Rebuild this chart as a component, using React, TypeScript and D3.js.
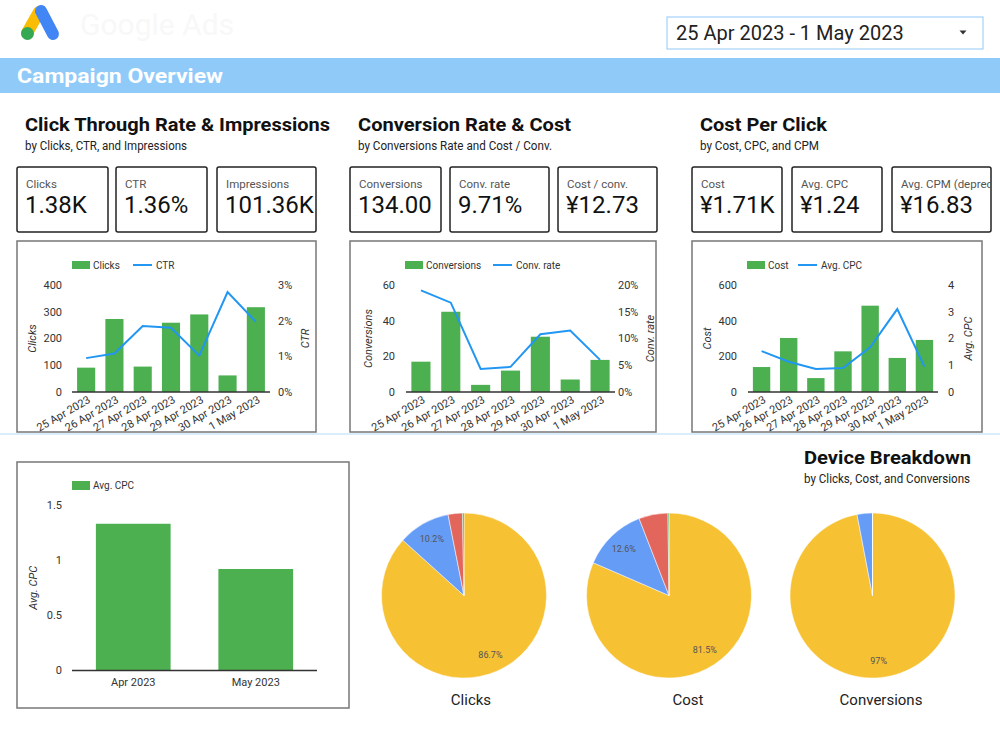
import React from "react";
import * as d3 from "d3";

const FONT = "Roboto, 'Noto Sans', Arial, sans-serif";

// ---------- data ----------
const dates = ["25 Apr 2023", "26 Apr 2023", "27 Apr 2023", "28 Apr 2023", "29 Apr 2023", "30 Apr 2023", "1 May 2023"];
const clicks = [91, 273, 95, 259, 290, 62, 317];
const ctr = [0.95, 1.08, 1.85, 1.8, 1.02, 2.8, 1.97];
const conversions = [17, 45, 4, 12, 31, 7, 18];
const convRate = [19.0, 16.7, 4.3, 4.7, 10.8, 11.5, 6.0];
const cost = [140, 303, 78, 228, 484, 191, 292];
const avgCpc = [1.53, 1.13, 0.86, 0.9, 1.67, 3.1, 0.95];

const clicksTicks = [0, 100, 200, 300, 400];
const ctrTicks = [0, 1, 2, 3];
const convTicks = [0, 20, 40, 60];
const convRateTicks = [0, 5, 10, 15, 20];
const costTicks = [0, 200, 400, 600];
const cpcTicks = [0, 1, 2, 3, 4];

const months = ["Apr 2023", "May 2023"];
const monthlyAvgCpc = [1.33, 0.92];
const monthlyTicks = [0, 0.5, 1, 1.5];

const devices = ["Mobile phones", "Computers", "Tablets", "TV screens"];
const clicksShare = [86.7, 10.2, 2.8, 0.3];
const costShare = [81.5, 12.6, 5.7, 0.2];
const conversionsShare = [97, 3, 0, 0];

const kpiLabels = ["Clicks", "CTR", "Impressions", "Conversions", "Conv. rate", "Cost / conv.", "Cost", "Avg. CPC", "Avg. CPM (deprecated)"];
const kpiValues = ["1.38K", "1.36%", "101.36K", "134.00", "9.71%", "¥12.73", "¥1.71K", "¥1.24", "¥16.83"];

// ---------- styles ----------
const GREEN = "#4CAF50";
const LINE_BLUE = "#2196F3";
const PIE_COLORS = ["#F6C133", "#659CF5", "#E2665C", "#43A85A"];

type Box = { x: number; y: number; w: number; h: number };
type Plot = { x0: number; x1: number; yt: number; yb: number };

function Combo(props: {
  box: Box; plot: Plot; bars: number[]; line: number[];
  leftTicks: number[]; rightTicks: number[]; rightFmt: (v: number) => string;
  barName: string; lineName: string; leftTitle: string; rightTitle: string;
  legBar: number; legLine: number; leftLabelX: number; rightLabelX: number;
  leftTitleX: number; rightTitleX: number;
}) {
  const p = props;
  const x = d3.scaleBand<string>().domain(dates).range([p.plot.x0, p.plot.x1]).paddingInner(0.36).paddingOuter(0.18);
  const yl = d3.scaleLinear().domain([0, d3.max(p.leftTicks)!]).range([p.plot.yb, p.plot.yt]);
  const yr = d3.scaleLinear().domain([0, d3.max(p.rightTicks)!]).range([p.plot.yb, p.plot.yt]);
  const cx = (i: number) => (x(dates[i]) as number) + x.bandwidth() / 2;
  const path = d3.line<number>().x((_, i) => cx(i)).y((d) => yr(d))(p.line) || "";
  const midY = (p.plot.yt + p.plot.yb) / 2;
  const legY = p.plot.yt - 20;
  return (
    <g>
      <rect x={p.box.x} y={p.box.y} width={p.box.w} height={p.box.h} fill="#fff" stroke="#777" strokeWidth={1.5} />
      {/* legend */}
      <rect x={p.legBar} y={legY - 4} width={18} height={8} fill={GREEN} />
      <text x={p.legBar + 21} y={legY} dy="0.35em" fontSize={10} fill="#333">{p.barName}</text>
      <line x1={p.legLine} x2={p.legLine + 19} y1={legY} y2={legY} stroke={LINE_BLUE} strokeWidth={2} />
      <text x={p.legLine + 23} y={legY} dy="0.35em" fontSize={10} fill="#333">{p.lineName}</text>
      {/* bars */}
      {p.bars.map((v, i) => (
        <rect key={i} x={x(dates[i])} y={yl(v)} width={x.bandwidth()} height={p.plot.yb - yl(v)} fill={GREEN} />
      ))}
      <line x1={p.plot.x0} x2={p.plot.x1} y1={p.plot.yb} y2={p.plot.yb} stroke="#333" strokeWidth={1.5} />
      <path d={path} fill="none" stroke={LINE_BLUE} strokeWidth={2} />
      {/* left ticks */}
      {p.leftTicks.map((t) => (
        <text key={t} x={p.leftLabelX} y={yl(t)} dy="0.35em" textAnchor="end" fontSize={11} fill="#333">{t}</text>
      ))}
      {p.rightTicks.map((t) => (
        <text key={t} x={p.rightLabelX} y={yr(t)} dy="0.35em" textAnchor="start" fontSize={11} fill="#333">{p.rightFmt(t)}</text>
      ))}
      <text transform={`translate(${p.leftTitleX},${midY}) rotate(-90)`} textAnchor="middle" dy="0.35em" fontSize={11} fontStyle="italic" fill="#333">{p.leftTitle}</text>
      <text transform={`translate(${p.rightTitleX},${midY}) rotate(-90)`} textAnchor="middle" dy="0.35em" fontSize={11} fontStyle="italic" fill="#333">{p.rightTitle}</text>
      {dates.map((d, i) => (
        <text key={d} transform={`translate(${cx(i) + 5},${p.plot.yb + 10}) rotate(-30)`} textAnchor="end" fontSize={11} fill="#333">{d}</text>
      ))}
    </g>
  );
}

function Pie(props: { cx: number; cy: number; r: number; values: number[]; title: string; titleX: number }) {
  const { cx, cy, r, values, title, titleX } = props;
  const arcs = d3.pie<number>().sort(null).value((d) => d)(values);
  const arc = d3.arc<d3.PieArcDatum<number>>().innerRadius(0).outerRadius(r);
  const lab = d3.arc<d3.PieArcDatum<number>>().innerRadius(r * 0.79).outerRadius(r * 0.79);
  const fmt = d3.format(".1~f");
  return (
    <g>
      <g transform={`translate(${cx},${cy})`}>
        {arcs.map((a, i) => (
          <path key={devices[i]} d={arc(a) || ""} fill={PIE_COLORS[i]} stroke="#fff" strokeWidth={0.5} />
        ))}
        {arcs.map((a, i) =>
          a.value >= 10 ? (
            <text key={"l" + i} x={lab.centroid(a)[0]} y={lab.centroid(a)[1]} dy="0.35em" textAnchor="middle" fontSize={9} fill="#555">
              {fmt(a.value)}%
            </text>
          ) : null
        )}
      </g>
      <text x={titleX} y={705} textAnchor="middle" fontSize={15} fill="#222">{title}</text>
    </g>
  );
}

function MonthlyChart() {
  const box = { x: 17, y: 462, w: 332, h: 246 };
  const plot = { x0: 72, x1: 317, yt: 505, yb: 670.5 };
  const x = d3.scaleBand<string>().domain(months).range([plot.x0, plot.x1]).paddingInner(0.39).paddingOuter(0.195);
  const y = d3.scaleLinear().domain([0, 1.5]).range([plot.yb, plot.yt]);
  return (
    <g>
      <rect x={box.x} y={box.y} width={box.w} height={box.h} fill="#fff" stroke="#777" strokeWidth={1.5} />
      <rect x={72} y={481} width={18} height={9} fill={GREEN} />
      <text x={93} y={485.5} dy="0.35em" fontSize={10} fill="#333">Avg. CPC</text>
      {monthlyAvgCpc.map((v, i) => (
        <rect key={months[i]} x={x(months[i])} y={y(v)} width={x.bandwidth()} height={plot.yb - y(v)} fill={GREEN} />
      ))}
      <line x1={plot.x0} x2={plot.x1} y1={plot.yb} y2={plot.yb} stroke="#333" strokeWidth={1.5} />
      {monthlyTicks.map((t) => (
        <text key={t} x={62} y={y(t)} dy="0.35em" textAnchor="end" fontSize={11} fill="#333">{t}</text>
      ))}
      {months.map((m) => (
        <text key={m} x={(x(m) as number) + x.bandwidth() / 2} y={686} textAnchor="middle" fontSize={11} fill="#333">{m}</text>
      ))}
      <text transform={`translate(33,${(plot.yt + plot.yb) / 2}) rotate(-90)`} textAnchor="middle" dy="0.35em" fontSize={11} fontStyle="italic" fill="#333">Avg. CPC</text>
    </g>
  );
}

const kpiX = [17, 116, 217, 350, 450, 558, 692, 792, 892];
const kpiW = [91, 91, 99, 91, 99, 99, 90, 90, 99];

export default function App() {
  return (
    <svg width={1000} height={750} style={{ position: "absolute", left: 0, top: 0, fontFamily: FONT }}>
      <defs>
        {kpiX.map((kx, i) => (
          <clipPath id={`kc${i}`} key={i}>
            <rect x={kx} y={167} width={kpiW[i]} height={65} />
          </clipPath>
        ))}
      </defs>
      <rect x={0} y={0} width={1000} height={750} fill="#fff" />
      {/* logo */}
      <line x1={39} y1={12} x2={27} y2={33} stroke="#FBBC04" strokeWidth={12} strokeLinecap="round" />
      <line x1={41} y1={11} x2={53} y2={34} stroke="#4285F4" strokeWidth={12} strokeLinecap="round" />
      <circle cx={27.5} cy={33.5} r={6.5} fill="#34A853" />
      <text x={80} y={35} fontSize={30} fill="#f8f8f8">Google Ads</text>
      {/* date picker */}
      <rect x={667} y={17} width={316} height={32} fill="#fff" stroke="#90CAF9" strokeWidth={1} />
      <text x={676} y={39.5} fontSize={20} fill="#222">25 Apr 2023 - 1 May 2023</text>
      <path d="M959.5,30.5 L966.5,30.5 L963,34.5 Z" fill="#333" />
      {/* band */}
      <rect x={0} y={58} width={1000} height={35} fill="#90CAF9" />
      <text x={17} y={83} fontSize={21} fontWeight="bold" fill="#fff" textLength={206} lengthAdjust="spacingAndGlyphs">Campaign Overview</text>

      {/* section titles */}
      <text x={25} y={131} fontSize={19} fontWeight="bold" fill="#111" textLength={305} lengthAdjust="spacingAndGlyphs">Click Through Rate &amp; Impressions</text>
      <text x={25} y={150} fontSize={12} fill="#222" textLength={162} lengthAdjust="spacingAndGlyphs">by Clicks, CTR, and Impressions</text>
      <text x={358} y={131} fontSize={19} fontWeight="bold" fill="#111" textLength={213} lengthAdjust="spacingAndGlyphs">Conversion Rate &amp; Cost</text>
      <text x={358} y={150} fontSize={12} fill="#222" textLength={194} lengthAdjust="spacingAndGlyphs">by Conversions Rate and Cost / Conv.</text>
      <text x={700} y={131} fontSize={19} fontWeight="bold" fill="#111" textLength={127} lengthAdjust="spacingAndGlyphs">Cost Per Click</text>
      <text x={700} y={150} fontSize={12} fill="#222" textLength={119} lengthAdjust="spacingAndGlyphs">by Cost, CPC, and CPM</text>

      {/* KPI boxes */}
      {kpiX.map((kx, i) => (
        <g key={kpiLabels[i]}>
          <rect x={kx} y={167} width={kpiW[i]} height={65} rx={2} fill="#fff" stroke="#222" strokeWidth={1.5} />
          <g clipPath={`url(#kc${i})`}>
            <text x={kx + 9} y={188} fontSize={11.5} fill="#555">{kpiLabels[i]}</text>
          </g>
          <text x={kx + 8} y={213} fontSize={24} fill="#111">{kpiValues[i]}</text>
        </g>
      ))}

      <line x1={0} x2={1000} y1={434} y2={434} stroke="#cfe6fa" strokeWidth={1.5} />

      <Combo box={{ x: 17, y: 241, w: 299, h: 191 }} plot={{ x0: 72, x1: 270, yt: 285, yb: 392 }}
        bars={clicks} line={ctr} leftTicks={clicksTicks} rightTicks={ctrTicks} rightFmt={(v) => `${v}%`}
        barName="Clicks" lineName="CTR" leftTitle="Clicks" rightTitle="CTR"
        legBar={72} legLine={133} leftLabelX={62} rightLabelX={278} leftTitleX={32} rightTitleX={305} />
      <Combo box={{ x: 350, y: 241, w: 306, h: 191 }} plot={{ x0: 406, x1: 615, yt: 285, yb: 392 }}
        bars={conversions} line={convRate} leftTicks={convTicks} rightTicks={convRateTicks} rightFmt={(v) => `${v}%`}
        barName="Conversions" lineName="Conv. rate" leftTitle="Conversions" rightTitle="Conv. rate"
        legBar={405} legLine={493} leftLabelX={395} rightLabelX={618} leftTitleX={368} rightTitleX={650} />
      <Combo box={{ x: 692, y: 241, w: 290, h: 191 }} plot={{ x0: 748, x1: 938, yt: 285, yb: 392 }}
        bars={cost} line={avgCpc} leftTicks={costTicks} rightTicks={cpcTicks} rightFmt={(v) => `${v}`}
        barName="Cost" lineName="Avg. CPC" leftTitle="Cost" rightTitle="Avg. CPC"
        legBar={747} legLine={798} leftLabelX={737} rightLabelX={948} leftTitleX={707} rightTitleX={968} />

      <MonthlyChart />

      <text x={804} y={464} fontSize={19} fontWeight="bold" fill="#111" textLength={167} lengthAdjust="spacingAndGlyphs">Device Breakdown</text>
      <text x={804} y={483} fontSize={12} fill="#222" textLength={166} lengthAdjust="spacingAndGlyphs">by Clicks, Cost, and Conversions</text>

      <Pie cx={464} cy={595.5} r={82.5} values={clicksShare} title="Clicks" titleX={471} />
      <Pie cx={669} cy={595.5} r={82.5} values={costShare} title="Cost" titleX={688} />
      <Pie cx={872.5} cy={595.5} r={82.5} values={conversionsShare} title="Conversions" titleX={881} />
    </svg>
  );
}
